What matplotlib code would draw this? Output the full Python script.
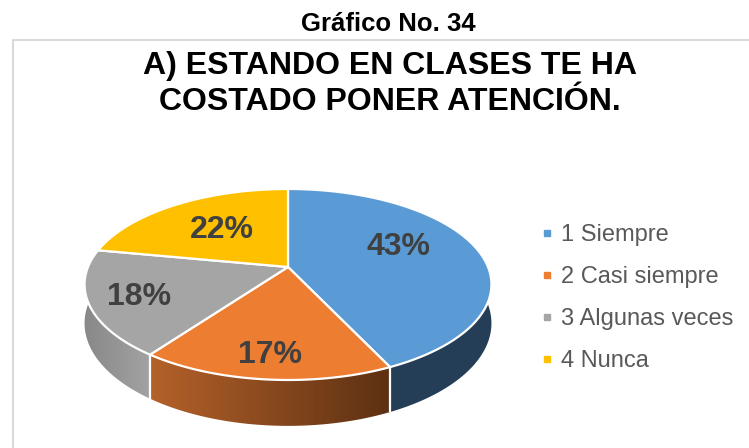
import numpy as np
import matplotlib
matplotlib.use('Agg')
import matplotlib.pyplot as plt
from matplotlib.patches import Polygon
from matplotlib.colors import to_rgb

plt.rcParams['font.family'] = ['Liberation Sans', 'DejaVu Sans']

# ---------------- data ----------------
categories = ['1 Siempre', '2 Casi siempre', '3 Algunas veces', '4 Nunca']
values = [43, 17, 18, 22]
pct_labels = ['43%', '17%', '18%', '22%']
top_colors = ['#5B9BD5', '#ED7D31', '#A5A5A5', '#FFC000']
side_left = ['#253E57', '#B5622A', '#888888', '#C89600']
side_right = ['#253E57', '#5C3012', '#A3A3A3', '#8F6B00']

suptitle = 'Gráfico No. 34'
title_lines = ['A) ESTANDO EN CLASES TE HA', 'COSTADO PONER ATENCIÓN.']

# ---------------- figure ----------------
W, H = 749, 448
fig = plt.figure(figsize=(W / 100, H / 100), dpi=100)
ax = fig.add_axes([0, 0, 1, 1])
ax.axis('off')

# 3D pie geometry (perspective ellipse)
cx, cy, RX, RY, K, DEPTH = 288, 267, 200, 92.3, 0.183, 37.5


def proj(theta_deg, r=1.0):
    t = np.radians(theta_deg)
    u = r * np.cos(t)
    v = r * np.sin(t)
    d = 1 + K * v
    return cx + RX * u / d, cy - RY * v / d, DEPTH / d


total = float(sum(values))
starts, ends = [], []
a = 90.0
for v in values:
    starts.append(a)
    a = a - 360.0 * v / total
    ends.append(a)

# ---- side walls (gradient clipped to wall polygon) ----
for i in range(len(values)):
    lo = max(ends[i], -180.0)
    hi = min(starts[i], 0.0)
    if hi <= lo:
        continue
    n = int(np.ceil((hi - lo) / 0.5))
    th = np.linspace(hi, lo, n + 1)
    xs, ys, ds = proj(th)
    pts = list(zip(xs, ys)) + list(zip(xs[::-1], (ys + ds)[::-1]))
    wall = Polygon(pts, closed=True, facecolor='none', edgecolor='none')
    ax.add_patch(wall)
    xl, xr = xs.min(), xs.max()
    ytop, ybot = ys.min(), (ys + ds).max()
    cL, cR = np.array(to_rgb(side_left[i])), np.array(to_rgb(side_right[i]))
    f = np.linspace(0, 1, 256)[:, None]
    grad = (cL[None, :] + (cR - cL)[None, :] * f)[None, :, :]
    im = ax.imshow(grad, extent=(xl - 1, xr + 1, ybot + 1, ytop - 1),
                   aspect='auto', interpolation='bilinear', zorder=2)
    im.set_clip_path(wall)

# white separators on the side wall
for b in ends[:-1]:
    if -180.0 <= b <= 0.0:
        x, y, d = proj(b)
        ax.plot([x, x], [y, y + d], color='white', lw=1.6, zorder=3,
                solid_capstyle='butt')

# ---- top face ----
for i in range(len(values)):
    n = max(int(np.ceil((starts[i] - ends[i]) / 0.5)), 2)
    th = np.linspace(starts[i], ends[i], n + 1)
    xs, ys, _ = proj(th)
    pts = [(cx, cy)] + list(zip(xs, ys))
    ax.add_patch(Polygon(pts, closed=True, facecolor=top_colors[i],
                         edgecolor='white', linewidth=1.6, joinstyle='round',
                         zorder=4))

# ---- percentage labels ----
label_r = [0.6, 0.8, 0.76, 0.56]
label_dy = [-8, 2, 3, 0]
for i in range(len(values)):
    mid = 0.5 * (starts[i] + ends[i])
    x, y, _ = proj(mid, label_r[i])
    ax.text(x - (4 if i == 0 else 0), y + label_dy[i], pct_labels[i],
            ha='center', va='center', fontsize=23, fontweight='bold',
            color='#404040', zorder=6)

# ---- legend ----
for i, cat in enumerate(categories):
    ly = 233 + 42 * i
    ax.plot([547], [ly], marker='s', ms=5, color=top_colors[i],
            linestyle='none', zorder=5)
    ax.text(561, ly + 8, cat, ha='left', va='baseline', fontsize=17,
            color='#595959', zorder=5)

# ---- titles ----
ax.text(388, 31, suptitle, ha='center', va='baseline', fontsize=18.5,
        fontweight='bold', color='black')
ax.text(390, 74, title_lines[0], ha='center', va='baseline', fontsize=23,
        fontweight='bold', color='black')
ax.text(390, 110, title_lines[1], ha='center', va='baseline', fontsize=23,
        fontweight='bold', color='black')

# ---- chart border ----
ax.plot([13, 13, W], [H, 40, 40], color='#D9D9D9', lw=1.5, zorder=1)

ax.set_xlim(0, W)
ax.set_ylim(H, 0)
fig.savefig('out.png', dpi=100)
